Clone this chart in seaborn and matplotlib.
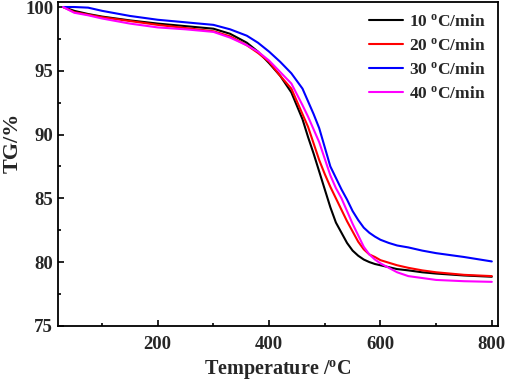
import pandas as pd
import seaborn as sns
import matplotlib.pyplot as plt
from matplotlib.ticker import MultipleLocator

# --- Dados (TG x temperatura) ---
temperatura = [30, 50, 75, 100, 150, 200, 250, 300, 330, 360, 380, 400, 420, 440,
               460, 470, 480, 490, 500, 510, 520, 530, 540, 550, 560, 570, 580,
               590, 600, 615, 630, 650, 675, 700, 750, 800]

tg_10 = [100.0, 99.7, 99.45, 99.25, 98.95, 98.7, 98.5, 98.3, 97.9, 97.2, 96.5, 95.6,
         94.6, 93.3, 91.2, 89.8, 88.5, 87.1, 85.7, 84.3, 83.1, 82.3, 81.5, 80.9,
         80.5, 80.2, 80.0, 79.85, 79.75, 79.6, 79.45, 79.35, 79.2, 79.1, 78.95, 78.85]

tg_20 = [100.0, 99.6, 99.4, 99.2, 98.9, 98.6, 98.35, 98.1, 97.7, 97.0, 96.4, 95.7,
         94.6, 93.6, 91.6, 90.6, 89.3, 88.0, 86.9, 85.9, 85.0, 84.1, 83.2, 82.4,
         81.6, 81.0, 80.6, 80.4, 80.15, 79.95, 79.75, 79.55, 79.35, 79.2, 79.0, 78.9]

tg_30 = [100.0, 100.0, 99.95, 99.7, 99.3, 99.0, 98.8, 98.6, 98.25, 97.75, 97.2, 96.5,
         95.7, 94.8, 93.6, 92.6, 91.6, 90.5, 89.0, 87.5, 86.6, 85.7, 84.9, 84.0,
         83.3, 82.7, 82.3, 82.0, 81.75, 81.5, 81.3, 81.15, 80.9, 80.7, 80.4, 80.05]

tg_40 = [100.0, 99.55, 99.35, 99.1, 98.7, 98.4, 98.25, 98.05, 97.6, 97.0, 96.5, 95.8,
         94.9, 94.0, 92.3, 91.4, 90.4, 89.4, 88.1, 86.8, 85.8, 85.0, 84.0, 83.0,
         82.1, 81.2, 80.6, 80.2, 79.9, 79.55, 79.2, 78.9, 78.75, 78.6, 78.5, 78.45]

taxas = [r'10 $^\mathrm{o}$C/min', r'20 $^\mathrm{o}$C/min',
         r'30 $^\mathrm{o}$C/min', r'40 $^\mathrm{o}$C/min']

# --- Montar tabela longa ---
df = pd.concat([
    pd.DataFrame({'temp': temperatura, 'tg': tg, 'taxa': taxa})
    for tg, taxa in zip([tg_10, tg_20, tg_30, tg_40], taxas)
], ignore_index=True)

cores = dict(zip(taxas, ['#000000', '#ff0000', '#0000ff', '#ff00ff']))

sns.set_theme(style="ticks")
plt.rcParams['font.family'] = ['Liberation Serif', 'DejaVu Serif']
plt.rcParams['font.weight'] = 'bold'
plt.rcParams['mathtext.fontset'] = 'custom'
plt.rcParams['mathtext.rm'] = 'Liberation Serif:bold'
plt.rcParams['mathtext.it'] = 'Liberation Serif:bold'
plt.rcParams['mathtext.bf'] = 'Liberation Serif:bold'

fig = plt.figure(figsize=(5.05, 3.82), dpi=100)
ax = fig.add_axes([0.115, 0.147, 0.871, 0.848])

sns.lineplot(data=df, x='temp', y='tg', hue='taxa', hue_order=taxas,
             palette=cores, linewidth=1.5, ax=ax)

ax.set_xlim(21, 811)
ax.set_ylim(75, 100.4)
ax.xaxis.set_major_locator(MultipleLocator(200))
ax.xaxis.set_minor_locator(MultipleLocator(100))
ax.yaxis.set_major_locator(MultipleLocator(5))
ax.yaxis.set_minor_locator(MultipleLocator(2.5))
ax.tick_params(which='both', direction='in', top=False, right=False,
               labelsize=13.5, width=1.2, color='black')
ax.tick_params(which='major', length=4.5)
ax.tick_params(which='minor', length=2.5)
ax.tick_params(axis='x', pad=7)
for lab in ax.get_xticklabels() + ax.get_yticklabels():
    lab.set_fontweight('bold')

for s in ax.spines.values():
    s.set_visible(True)
    s.set_linewidth(1.3)
    s.set_color('black')

ax.set_xlabel(r'Temperature /$^\mathrm{o}$C', fontsize=14.5, fontweight='bold', labelpad=4)
ax.set_ylabel('TG/%', fontsize=16, fontweight='bold')
ax.yaxis.set_label_coords(-0.08, 0.565)

ax.legend(frameon=False, loc='upper right', handlelength=2.0, handletextpad=0.35,
          labelspacing=0.45, borderaxespad=0.3, prop={'weight': 'bold', 'size': 12.5})

fig.savefig('out.png', dpi=100)
